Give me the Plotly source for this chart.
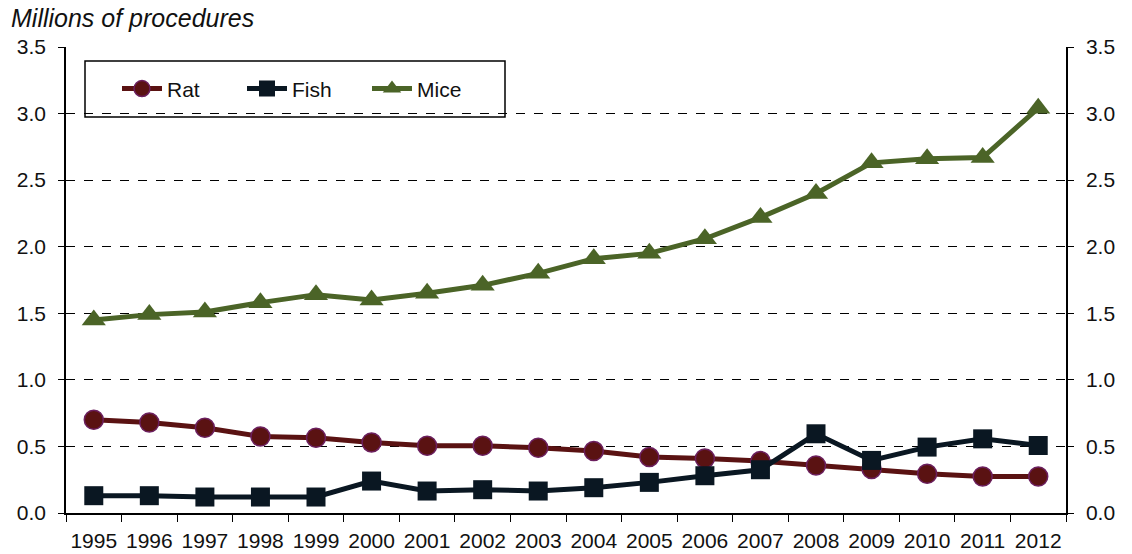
import plotly.graph_objects as go

years = [str(y) for y in range(1995, 2013)]
rat = [0.70, 0.68, 0.64, 0.575, 0.565, 0.53, 0.505, 0.505, 0.49, 0.465, 0.42, 0.41, 0.39, 0.357, 0.33, 0.295, 0.274, 0.274]
fish = [0.13, 0.13, 0.12, 0.12, 0.12, 0.24, 0.165, 0.175, 0.165, 0.19, 0.23, 0.28, 0.325, 0.595, 0.395, 0.495, 0.557, 0.507]
mice = [1.45, 1.49, 1.51, 1.58, 1.64, 1.60, 1.65, 1.71, 1.80, 1.91, 1.95, 2.06, 2.22, 2.40, 2.63, 2.66, 2.67, 3.04]
y_ticks = [0.0, 0.5, 1.0, 1.5, 2.0, 2.5, 3.0, 3.5]

FONT = "Liberation Sans, Arial, sans-serif"
RAT_C, RAT_EDGE = "#5a1212", "#6b1f5e"
FISH_C = "#0a1722"
MICE_C = "#4b6427"

fig = go.Figure()
fig.add_trace(go.Scatter(
    x=years, y=rat, name="Rat", mode="lines+markers",
    line=dict(color=RAT_C, width=5),
    marker=dict(symbol="circle", size=19, color=RAT_C, line=dict(color=RAT_EDGE, width=1.5)),
))
fig.add_trace(go.Scatter(
    x=years, y=fish, name="Fish", mode="lines+markers",
    line=dict(color=FISH_C, width=5),
    marker=dict(symbol="square", size=19, color=FISH_C),
))
fig.add_trace(go.Scatter(
    x=years, y=mice, name="Mice", mode="lines+markers",
    line=dict(color=MICE_C, width=5),
    marker=dict(symbol="triangle-up", size=21, color=MICE_C),
))
# mirror of the value scale on the right-hand side
fig.add_trace(go.Scatter(
    x=years, y=mice, yaxis="y2", mode="lines", showlegend=False,
    hoverinfo="skip", line=dict(width=0), opacity=0,
))

tick_text = [f"{v:.1f}" for v in y_ticks]
yaxis_common = dict(
    range=[0, 3.5], tickvals=y_ticks, ticktext=tick_text,
    ticks="outside", ticklen=6, tickcolor="black", ticklabelstandoff=8,
    showline=True, linecolor="black", linewidth=1.5,
    tickfont=dict(family=FONT, size=21, color="#111"),
    zeroline=False, fixedrange=True, automargin=False,
)

fig.update_layout(
    width=1132, height=554,
    margin=dict(l=66, r=66, t=47, b=41),
    paper_bgcolor="white", plot_bgcolor="white",
    font=dict(family=FONT, size=20, color="#111"),
    showlegend=True,
    legend=dict(
        orientation="h", x=0.051, y=0.91, xanchor="left", yanchor="middle",
        bgcolor="rgba(0,0,0,0)", borderwidth=0,
        font=dict(family=FONT, size=21, color="#111"),
        entrywidth=70, entrywidthmode="pixels", itemwidth=40,
        traceorder="normal",
    ),
    xaxis=dict(
        type="category", categoryorder="array", categoryarray=years,
        range=[-0.5, len(years) - 0.5],
        showline=True, linecolor="black", linewidth=1.5,
        ticks="outside", tickson="boundaries", ticklen=7, tickcolor="black",
        tickangle=0, automargin=False, ticklabelstandoff=8,
        tickfont=dict(family=FONT, size=21, color="#111"),
        showgrid=False, zeroline=False,
    ),
    yaxis=dict(
        **yaxis_common,
        showgrid=True, gridcolor="black", gridwidth=1, griddash="dash",
    ),
    yaxis2=dict(
        **yaxis_common,
        overlaying="y", side="right", showgrid=False,
    ),
    shapes=[dict(
        type="rect", xref="paper", yref="paper",
        x0=0.019, x1=0.439, y0=0.85, y1=0.97,
        line=dict(color="black", width=1.5), fillcolor="white", layer="below",
    )],
    annotations=[dict(
        text="<i>Millions of procedures</i>", xref="paper", yref="paper",
        x=-0.057, y=1.0, xanchor="left", yanchor="bottom", yshift=13,
        showarrow=False, font=dict(family=FONT, size=25, color="#111"),
    )],
)

fig.write_html("out.html")
